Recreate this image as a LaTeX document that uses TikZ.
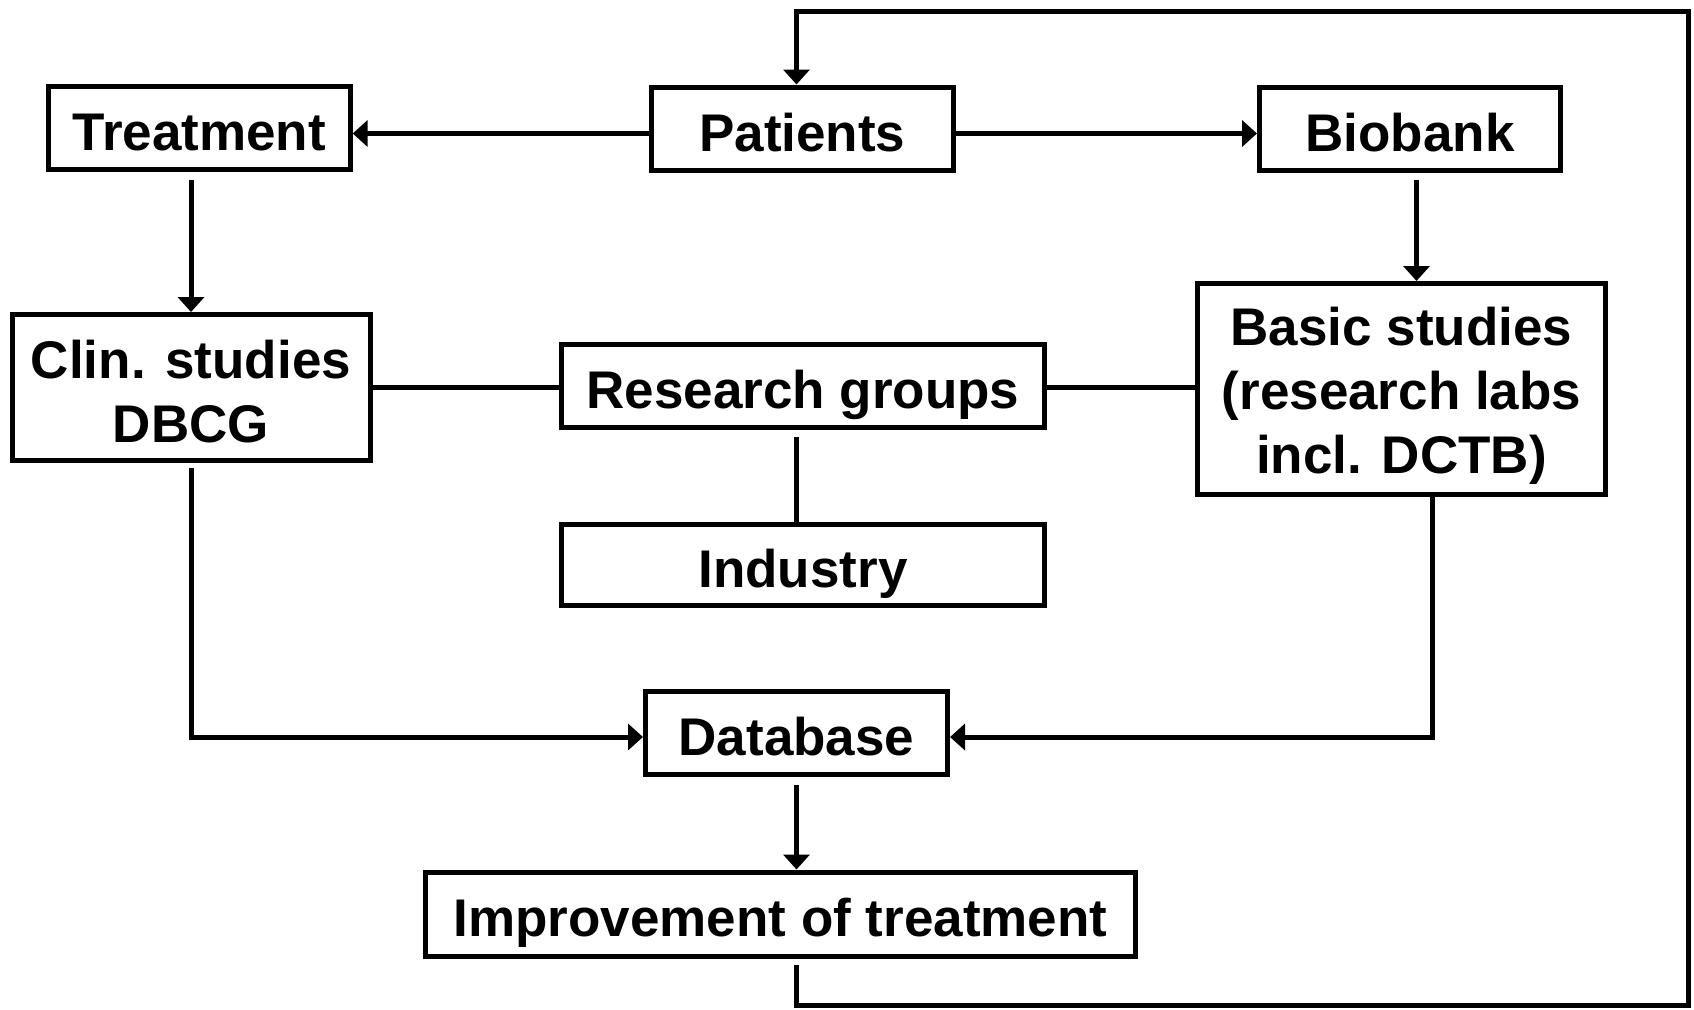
\documentclass[tikz,border=0pt]{standalone}
\usepackage{fontspec}
\setmainfont{Liberation Sans}
\usetikzlibrary{arrows.meta}
\newcommand\topstrut[1]{\rule{0pt}{#1}}
\newcommand\botstrut[1]{\rule[-#1]{0pt}{0pt}}
\begin{document}
\begin{tikzpicture}[x=1pt,y=-1pt,
  box/.style={draw,line width=5pt,inner sep=0pt,align=center,
    font=\bfseries\fontsize{53}{64}\selectfont},
  one/.style={box,text height=50pt,text depth=5pt},
  conn/.style={line width=5pt},
  arr/.style={conn,-{Triangle[length=15pt,width=26pt]}}]
\useasboundingbox[fill=white] (0,0) rectangle (1694,1009);
\node[one,minimum width=301.7pt,minimum height=83pt] (treat) at (199.3,128) {Treatment};
\node[one,minimum width=302.4pt,minimum height=83pt] (pat) at (802.3,128.5) {Patients};
\node[one,minimum width=301pt,minimum height=83pt] (bio) at (1410,128.5) {Biobank};
\node[box,minimum width=358pt,minimum height=146pt] (clin) at (191,387.5)
  {\topstrut{50pt}Clin. studies\\DBCG\botstrut{5pt}};
\node[one,minimum width=483.5pt,minimum height=83pt] (res) at (803,386) {Research groups};
\node[box,minimum width=408pt,minimum height=211pt] (basic) at (1401.5,389)
  {\topstrut{51pt}Basic studies\\(research labs\\incl. DCTB)\botstrut{4pt}};
\node[one,minimum width=483.5pt,minimum height=81pt] (ind) at (803,565) {Industry};
\node[one,minimum width=302pt,minimum height=83pt] (db) at (796.5,733) {Database};
\node[one,minimum width=710pt,minimum height=84pt] (imp) at (780.5,914) {Improvement of treatment};
\coordinate (lb) at (1688,1005);
\coordinate (rt) at (1688,11.5);
% connectors
\draw[arr] ([yshift=-5pt]pat.west) -- ([yshift=-5pt]pat.west -| treat.east);
\draw[arr] ([yshift=-5pt]pat.east) -- ([yshift=-5pt]pat.east -| bio.west);
\draw[arr,shorten <=7.5pt] (clin.north |- treat.south) -- (clin.north);
\draw[arr,shorten <=7.5pt] ([xshift=6.5pt]bio.south) -- ([xshift=6.5pt]bio.south |- basic.north);
\draw[conn] (clin.east) -- (clin.east -| res.west);
\draw[conn] (clin.east -| res.east) -- (clin.east -| basic.west);
\draw[conn,shorten <=6.5pt] ([xshift=-6.3pt]res.south) -- ([xshift=-6.3pt]res.south |- ind.north);
\draw[arr,shorten <=4.5pt] (clin.south) |- ([yshift=-4pt]db.west);
\draw[arr] ([xshift=31pt]basic.south) |- ([yshift=-4pt]db.east);
\draw[arr,shorten <=7.5pt] (db.south) -- (db.south |- imp.north);
\draw[arr,shorten <=6.5pt] (db.south |- imp.south) -- (db.south |- lb) -- (lb) -- (rt) -- (db.south |- rt) -- (db.south |- pat.north);
\end{tikzpicture}
\end{document}
